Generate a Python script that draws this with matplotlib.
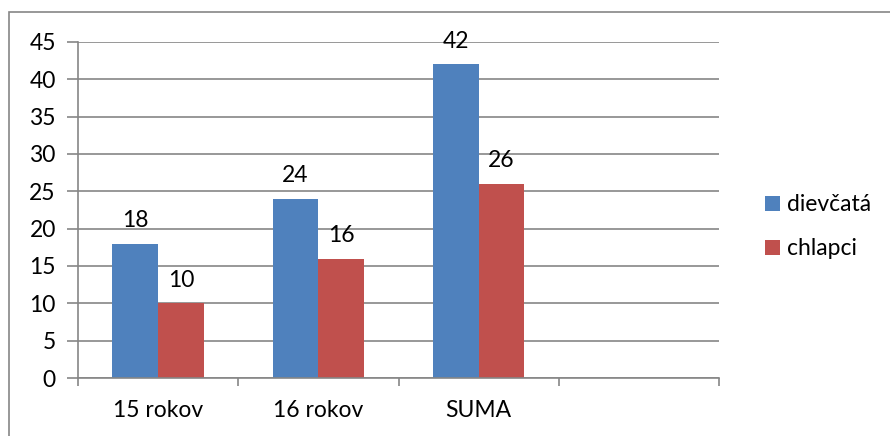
import matplotlib.pyplot as plt
from matplotlib.patches import Rectangle
import numpy as np

plt.rcParams["font.family"] = ["Lato", "DejaVu Sans"]

categories = ["15 rokov", "16 rokov", "SUMA", ""]
dievcata = [18, 24, 42]
chlapci = [10, 16, 26]
series_names = ["dievčatá", "chlapci"]

blue = "#4F81BD"
red = "#C0504D"
grey = "#868686"
fs = 16.5

fig = plt.figure(figsize=(8.9, 4.36), dpi=100)
ax = fig.add_axes([78 / 890, 1 - 378 / 436, (719 - 78) / 890, (378 - 42) / 436])

# outer chart border (cut off right and bottom)
fig.patches.append(Rectangle((9 / 890, -0.1), 1.1, 1 - 12 / 436 + 0.1,
                             transform=fig.transFigure, fill=False,
                             edgecolor=grey, linewidth=1.2))

bar_width = 0.285
x = np.arange(len(dievcata))
b1 = ax.bar(x - bar_width / 2, dievcata, width=bar_width, color=blue, label=series_names[0])
b2 = ax.bar(x + bar_width / 2, chlapci, width=bar_width, color=red, label=series_names[1])

for bars in (b1, b2):
    for rect in bars:
        ax.annotate(f"{rect.get_height():.0f}",
                    (rect.get_x() + rect.get_width() / 2, rect.get_height()),
                    xytext=(0, 9), textcoords="offset points",
                    ha="center", va="bottom", fontsize=fs)

ax.set_xlim(-0.5, 3.5)
ax.set_ylim(0, 45)
ax.set_yticks(range(0, 46, 5))
ax.set_xticks(np.arange(-0.5, 4, 1))
ax.set_xticklabels([])
ax.set_xticks(np.arange(4), minor=True)
ax.set_xticklabels(categories, minor=True, fontsize=fs)
ax.tick_params(axis="x", which="minor", length=0, pad=16)
ax.tick_params(axis="x", which="major", length=6, color=grey, width=1.2)
ax.tick_params(axis="y", length=8, color=grey, width=1.2, labelsize=fs, pad=8)

ax.yaxis.grid(True, color=grey, linewidth=1.2)
ax.set_axisbelow(True)
for side in ("top", "right"):
    ax.spines[side].set_visible(False)
for side in ("left", "bottom"):
    ax.spines[side].set_color(grey)
    ax.spines[side].set_linewidth(1.2)

ax.legend(loc="center left", bbox_to_anchor=(1.04, 0.45), frameon=False,
          fontsize=fs, handlelength=0.65, handleheight=0.65, labelspacing=1.0,
          handletextpad=0.3)

fig.savefig("out.png", dpi=100)
